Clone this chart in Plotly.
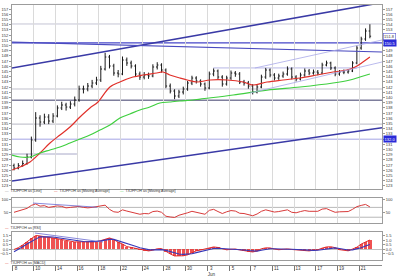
import plotly.graph_objects as go

W, H = 400, 279

# ---------------- data ----------------
bars = list(range(83))
open_ = [126.9, 126.45, 126.93, 127.32, 128.57, 131.84, 136.07, 135.30, 136.26, 135.49,
         136.45, 138.0, 138.57, 138.18, 138.76, 139.53, 141.65, 141.65, 142.22, 142.8,
         143.38, 145.49, 147.8, 146.07, 144.72, 144.53, 147.22, 146.65, 146.07, 144.53,
         143.95, 144.34, 144.15, 145.88, 146.26, 145.3, 142.22, 141.26, 140.3, 141.07,
         141.65, 142.8, 143.76, 143.18, 142.61, 141.84, 144.53, 145.11, 143.95, 142.61,
         143.76, 144.72, 144.53, 142.99, 142.8, 142.22, 141.07, 142.03, 143.95, 145.3,
         144.34, 143.76, 144.15, 144.53, 145.49, 143.95, 143.57, 144.34, 145.11, 144.72,
         144.91, 144.72, 146.26, 146.65, 145.69, 144.53, 144.91, 144.91, 145.11, 146.65,
         149.53, 151.26, 152.8]
high = [127.3, 127.4, 127.9, 129.2, 132.5, 137.2, 136.6, 136.9, 136.8, 137.0,
        138.5, 139.2, 139.0, 139.3, 140.2, 142.3, 142.3, 142.8, 143.4, 144.0,
        146.1, 148.6, 148.2, 146.5, 145.3, 147.9, 147.7, 147.1, 146.4, 145.0,
        144.9, 144.8, 146.4, 146.8, 146.6, 145.6, 142.7, 141.6, 141.5, 142.1,
        143.2, 144.2, 144.1, 143.5, 142.9, 145.0, 145.6, 145.4, 144.3, 144.2,
        145.2, 145.1, 144.9, 143.4, 143.2, 142.6, 142.5, 144.4, 145.7, 145.6,
        144.7, 144.6, 145.0, 146.0, 145.8, 144.3, 144.8, 145.6, 145.5, 145.4,
        145.3, 146.7, 147.1, 146.9, 146.0, 145.3, 145.4, 145.5, 147.0, 150.0,
        151.7, 153.3, 154.1]
low = [126.0, 126.2, 126.7, 127.1, 128.3, 131.5, 134.4, 134.9, 134.9, 135.1,
       136.2, 137.6, 137.5, 137.8, 138.3, 139.2, 140.8, 141.2, 141.8, 142.4,
       143.0, 145.2, 145.6, 144.2, 143.9, 144.3, 146.1, 145.6, 144.0, 143.4,
       143.5, 143.6, 143.9, 145.4, 144.8, 141.8, 140.8, 139.7, 139.9, 140.6,
       141.3, 142.4, 142.7, 142.1, 141.3, 141.6, 144.1, 143.5, 142.1, 142.3,
       143.4, 144.0, 142.6, 142.3, 141.7, 140.6, 140.8, 141.8, 143.6, 143.9,
       143.3, 143.4, 143.8, 144.2, 143.5, 143.1, 143.3, 144.0, 144.3, 144.4,
       144.3, 144.5, 146.0, 145.3, 144.1, 144.2, 144.5, 144.6, 144.9, 146.4,
       149.2, 150.9, 151.4]
close = [126.45, 126.93, 127.32, 128.57, 131.84, 136.07, 135.30, 136.26, 135.49, 136.45,
         138.0, 138.57, 138.18, 138.76, 139.53, 141.65, 141.65, 142.22, 142.8, 143.38,
         145.49, 147.8, 146.07, 144.72, 144.53, 147.22, 146.65, 146.07, 144.53, 143.95,
         144.34, 144.15, 145.88, 146.26, 145.3, 142.22, 141.26, 140.3, 141.07, 141.65,
         142.8, 143.76, 143.18, 142.61, 141.84, 144.53, 145.11, 143.95, 142.61, 143.76,
         144.72, 144.53, 142.99, 142.8, 142.22, 141.07, 142.03, 143.95, 145.3, 144.34,
         143.76, 144.15, 144.53, 145.49, 143.95, 143.57, 144.34, 145.11, 144.72, 144.91,
         144.72, 146.26, 146.65, 145.69, 144.53, 144.91, 144.91, 145.11, 146.65, 149.53,
         151.26, 152.8, 151.8]

ma_fast_x = [-0.46, 1.38, 3.69, 5.99, 8.29, 10.6, 12.9, 15.2, 17.5, 19.35, 22.1, 24.4, 27.4,
             29.7, 32.9, 34.3, 35.9, 38.2, 39.9, 42.2, 45.2, 49.1, 52.8, 55.1, 58.3, 62.0,
             65.9, 69.8, 73.5, 76.7, 78.6, 80.4, 82.0]
ma_fast = [126.07, 126.65, 127.61, 129.34, 131.26, 132.8, 134.34, 136.26, 137.99, 139.15,
           142.03, 143.0, 143.95, 144.34, 144.72, 144.92, 144.34, 143.76, 143.38, 142.99,
           143.38, 143.38, 142.99, 142.42, 142.99, 143.38, 143.76, 144.34, 144.92, 145.3,
           145.88, 146.84, 147.8]
ma_slow_x = [-0.46, 1.38, 3.69, 5.99, 8.29, 10.6, 12.9, 15.2, 17.5, 19.8, 22.1, 24.4, 26.7,
             29.0, 31.3, 33.6, 35.9, 38.2, 41.2, 42.9, 50.5, 58.3, 65.9, 73.5, 77.4, 79.7, 82.0]
ma_slow = [128.95, 128.57, 128.57, 129.34, 129.92, 130.49, 131.26, 132.03, 132.8, 133.76,
           134.72, 136.07, 136.84, 137.61, 138.18, 138.95, 139.15, 139.34, 139.53, 139.72,
           140.49, 141.45, 142.03, 142.8, 143.38, 143.95, 144.53]

rsi = [50, 55, 58, 66, 78, 84, 75, 77, 70, 73,
       76, 74, 68, 70, 71, 74, 70, 68, 70, 72,
       76, 79, 62, 52, 50, 60, 55, 50, 44, 42,
       45, 44, 53, 55, 50, 34, 31, 29, 38, 42,
       48, 54, 50, 46, 42, 58, 62, 53, 45, 52,
       57, 55, 46, 45, 42, 36, 43, 54, 60, 54,
       51, 53, 55, 60, 50, 48, 53, 57, 54, 55,
       54, 63, 65, 57, 50, 52, 52, 53, 62, 73,
       78, 82, 72]
macd = [0.0, 0.2, 0.5, 0.83, 1.25, 1.55, 1.5, 1.38, 1.33, 1.28,
        1.18, 1.08, 0.98, 0.88, 0.83, 0.85, 0.83, 0.82, 0.83, 0.85,
        0.98, 1.15, 1.28, 1.1, 0.8, 0.6, 0.32, 0.22, 0.12, -0.04,
        -0.12, -0.16, -0.08, 0.08, 0.1, -0.25, -0.5, -0.72, -0.74, -0.7,
        -0.6, -0.35, -0.15, -0.06, 0.05, 0.15, 0.28, 0.22, 0.08, -0.04,
        0.02, 0.05, -0.05, -0.15, -0.24, -0.28, -0.17, 0.08, 0.18, 0.17,
        0.05, -0.03, 0.02, 0.06, 0.0, -0.06, -0.1, -0.14, -0.16, -0.08,
        -0.04, 0.15, 0.28, 0.3, 0.2, -0.02, -0.1, -0.15, 0.05, 0.25,
        0.6, 0.8, 1.05]
signal = [-0.25, 0.0, 0.3, 0.6, 0.9, 1.15, 1.4, 1.45, 1.42, 1.38,
          1.3, 1.2, 1.12, 1.05, 0.98, 0.92, 0.88, 0.85, 0.84, 0.9,
          0.95, 1.05, 1.12, 1.12, 0.98, 0.85, 0.68, 0.5, 0.35, 0.2,
          0.08, -0.02, -0.05, -0.03, -0.02, -0.1, -0.25, -0.4, -0.5, -0.55,
          -0.55, -0.48, -0.35, -0.22, -0.1, 0.0, 0.1, 0.14, 0.12, 0.06,
          0.03, 0.02, 0.0, -0.06, -0.12, -0.18, -0.18, -0.08, 0.02, 0.08,
          0.08, 0.04, 0.02, 0.03, 0.02, -0.02, -0.05, -0.08, -0.12, -0.1,
          -0.08, 0.0, 0.1, 0.17, 0.18, 0.1, 0.02, -0.06, -0.04, 0.05,
          0.2, 0.38, 0.55]

x_grid = [-0.46 + 5 * k for k in range(17)]
x_labels = ["8", "10", "14", "16", "18", "22", "24", "28", "30", "3<br>Jun",
            "5", "7", "11", "13", "17", "19", "21"]
price_ticks = list(range(123, 158))
right_hidden_ticks = [132, 150, 151, 152]   # covered by the value boxes on the right

# drawn trend lines (bar index, price)
channel_top = ([-0.46, 84.79], [145.68, 158.27])
channel_bottom = ([-0.46, 84.79], [123.95, 134.2])
falling_line = ([-0.46, 84.79], [150.68, 148.76])
thin_a = ([55.5, 84.79], [145.68, 151.07])
thin_b = ([54.4, 84.79], [140.88, 146.84])
rsi_trend = ([4.38, 19.1], [87.5, 70.8])
macd_trend = ([4.8, 20.5], [1.83, 0.83])

# horizontal levels: (value, colour, width, x0, x1)  x0/x1 None => full width
levels = [(154.15, "#c4c4d4", 1, None, None),
          (150.5, "#4646c8", 1.2, None, None),
          (141.65, "#c0c0cc", 1, None, None),
          (139.5, "#3c3c6a", 1, None, None),
          (134.9, "#b8b8c4", 1, None, None),
          (132.0, "#a4a4e4", 1, None, None),
          (129.15, "#a8a8c8", 1, -0.46, 14.5),
          (145.7, "#a4a4e0", 0.8, 45.9, 79.0)]
rsi_levels = [70, 30]
level_boxes = [(150.5, "150.5"), (132.0, "132.0")]
last_price = 151.8

FONT = "Liberation Sans, Arial, sans-serif"


def dom(top, bottom):
    return [(H - bottom) / H, (H - top) / H]


fig = go.Figure()

# main price bars
fig.add_trace(go.Ohlc(x=bars, open=open_, high=high, low=low, close=close,
                      increasing=dict(line=dict(color="#1a1a1a", width=1)),
                      decreasing=dict(line=dict(color="#1a1a1a", width=1)),
                      tickwidth=0.28, xaxis="x", yaxis="y", showlegend=False,
                      hoverinfo="skip"))
fig.add_trace(go.Scatter(x=ma_fast_x, y=ma_fast, mode="lines", line=dict(color="#e0302a", width=1.2, shape="spline"),
                         xaxis="x", yaxis="y", showlegend=False, hoverinfo="skip"))
fig.add_trace(go.Scatter(x=ma_slow_x, y=ma_slow, mode="lines", line=dict(color="#3fcf3f", width=1.2, shape="spline"),
                         xaxis="x", yaxis="y", showlegend=False, hoverinfo="skip"))
for (xs, ys), col, w in [(channel_top, "#3a3aa6", 1.6), (channel_bottom, "#3a3aa6", 1.6),
                         (falling_line, "#4a4ac0", 1.2), (thin_a, "#a8a8e8", 0.8),
                         (thin_b, "#a8a8e8", 0.8)]:
    fig.add_trace(go.Scatter(x=xs, y=ys, mode="lines", line=dict(color=col, width=w),
                             xaxis="x", yaxis="y", showlegend=False, hoverinfo="skip"))

# RSI
fig.add_trace(go.Scatter(x=bars, y=rsi, mode="lines", line=dict(color="#d83a3a", width=1),
                         xaxis="x2", yaxis="y2", showlegend=False, hoverinfo="skip"))
fig.add_trace(go.Scatter(x=rsi_trend[0], y=rsi_trend[1], mode="lines", line=dict(color="#6a6ad0", width=0.8),
                         xaxis="x2", yaxis="y2", showlegend=False, hoverinfo="skip"))

# MACD
fig.add_trace(go.Bar(x=bars, y=macd, width=0.75, marker=dict(color="rgba(236,50,50,0.85)", line=dict(width=0)),
                     xaxis="x3", yaxis="y3", showlegend=False, hoverinfo="skip"))
fig.add_trace(go.Scatter(x=bars, y=macd, mode="lines", line=dict(color="#e02828", width=1),
                         xaxis="x3", yaxis="y3", showlegend=False, hoverinfo="skip"))
fig.add_trace(go.Scatter(x=bars, y=signal, mode="lines", line=dict(color="#3838b8", width=1.1),
                         xaxis="x3", yaxis="y3", showlegend=False, hoverinfo="skip"))
fig.add_trace(go.Scatter(x=macd_trend[0], y=macd_trend[1], mode="lines", line=dict(color="#6a6ad0", width=0.8),
                         xaxis="x3", yaxis="y3", showlegend=False, hoverinfo="skip"))

# invisible helpers for left-side label axes and the date axis
for xa, ya, yv in [("x", "y5", 140), ("x2", "y6", 50), ("x3", "y7", 0), ("x4", "y4", 0)]:
    fig.add_trace(go.Scatter(x=[0], y=[yv], mode="markers", marker=dict(opacity=0),
                             xaxis=xa, yaxis=ya, showlegend=False, hoverinfo="skip"))

XR = [-0.46, 84.79]
xbase = dict(range=XR, tickvals=x_grid, showgrid=True, gridcolor="#dadada", gridwidth=1,
             showline=True, linecolor="#9c9c9c", linewidth=1, mirror=True,
             showticklabels=False, ticks="", zeroline=False, fixedrange=True)
tickfont = dict(family=FONT, size=4, color="#333")

main_dom = dom(5, 189)
rsi_dom = dom(198, 223)
macd_dom = dom(232, 260)
axis_dom = dom(264.5, 265)

ybase = dict(showgrid=False, showline=True, linecolor="#9c9c9c", linewidth=1, mirror=True,
             ticks="outside", ticklen=2, tickcolor="#999", tickfont=tickfont, zeroline=False,
             fixedrange=True, side="right")
ylabel_left = dict(showgrid=False, showline=False, ticks="outside", ticklen=2, tickcolor="#999",
                   tickfont=tickfont, zeroline=False, fixedrange=True, side="left")

PR = [122.42, 157.8]
RR = [6.5, 108.1]
MR = [-1.17, 1.94]
macd_ticks = [-0.5, 0.0, 0.5, 1.0, 1.5]
right_ticktext = ["" if t in right_hidden_ticks else str(t) for t in price_ticks]

shapes = []
for v, col, w, x0, x1 in levels:
    if x0 is None:
        shapes.append(dict(type="line", xref="x domain", yref="y", x0=0, x1=1, y0=v, y1=v,
                           line=dict(color=col, width=w), layer="below"))
    else:
        shapes.append(dict(type="line", xref="x", yref="y", x0=x0, x1=x1, y0=v, y1=v,
                           line=dict(color=col, width=w), layer="below"))
for v in rsi_levels:
    shapes.append(dict(type="line", xref="x2 domain", yref="y2", x0=0, x1=1, y0=v, y1=v,
                       line=dict(color="#b8b8b8", width=1), layer="below"))

annotations = []
for v, txt in level_boxes:
    annotations.append(dict(xref="paper", x=1, xanchor="left", xshift=1, yref="y", y=v,
                            text=txt, showarrow=False, font=dict(family=FONT, size=4, color="white"),
                            bgcolor="#2a2ad8", borderpad=0.6))
annotations.append(dict(xref="paper", x=1, xanchor="left", xshift=1, yref="y", y=last_price,
                        text=f"{last_price:.1f}", showarrow=False,
                        font=dict(family=FONT, size=4, color="#333"),
                        bgcolor="white", bordercolor="#5a5ad0", borderwidth=0.6, borderpad=0.4))

leg_font = dict(family=FONT, size=3.6, color="#333")
legend_items = [("#8a8a8a", "TXJFPOH as [Line]", 3, 191),
                ("#e0302a", "TXJFPOH as [Moving Average]", 52, 191),
                ("#3fcf3f", "TXJFPOH as [Moving Average]", 118, 191),
                ("#e0302a", "TXJFPOH as [RSI]", 3, 228),
                ("#e0302a", "TXJFPOH as [MACD]", 3, 262.5)]
for col, txt, xp, yp in legend_items:
    annotations.append(dict(xref="paper", yref="paper", x=(xp - 12) / (W - 30), y=(H - yp) / H,
                            xanchor="left", yanchor="middle", showarrow=False,
                            text=f"<span style='color:{col}'>\u2014</span>  {txt}", font=leg_font))

fig.update_layout(
    width=W, height=H, margin=dict(l=12, r=18, t=0, b=0, pad=0),
    paper_bgcolor="white", plot_bgcolor="white", showlegend=False,
    font=dict(family=FONT, size=4, color="#333"),
    xaxis=dict(**xbase, anchor="y", rangeslider=dict(visible=False)),
    xaxis2=dict(**xbase, anchor="y2"),
    xaxis3=dict(**xbase, anchor="y3"),
    xaxis4=dict(range=XR, tickvals=x_grid, ticktext=x_labels, showgrid=False, showline=True,
                linecolor="#8c8c8c", linewidth=1, mirror=False, ticks="outside", ticklen=5,
                tickcolor="#777", showticklabels=True, tickfont=dict(family=FONT, size=4.5, color="#333"),
                ticklabelshift=4, ticklabelstandoff=-6, zeroline=False, fixedrange=True, anchor="y4"),
    yaxis=dict(**ybase, domain=main_dom, range=PR, tickvals=price_ticks, ticktext=right_ticktext, anchor="x"),
    yaxis5=dict(**ylabel_left, range=PR, tickvals=price_ticks, overlaying="y", anchor="x"),
    yaxis2=dict(**ybase, domain=rsi_dom, range=RR, tickvals=[50, 100], anchor="x2"),
    yaxis6=dict(**ylabel_left, range=RR, tickvals=[50, 100], overlaying="y2", anchor="x2"),
    yaxis3=dict(**{**ybase, "zeroline": True}, zerolinecolor="#c0c0c0", zerolinewidth=1,
                domain=macd_dom, range=MR, tickvals=macd_ticks, tickformat=".1f", anchor="x3"),
    yaxis7=dict(**ylabel_left, range=MR, tickvals=macd_ticks, tickformat=".1f", overlaying="y3", anchor="x3"),
    yaxis4=dict(domain=axis_dom, range=[-1, 1], visible=False, fixedrange=True, anchor="x4"),
    shapes=shapes, annotations=annotations, bargap=0,
)

fig.write_html("out.html")
